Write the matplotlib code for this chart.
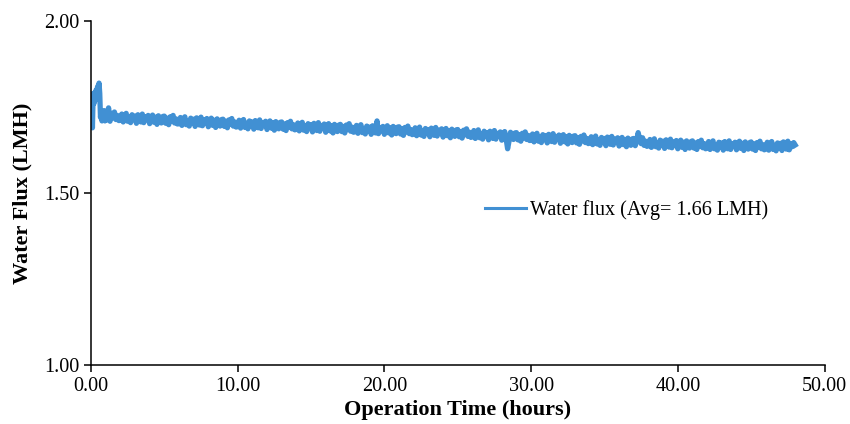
import numpy as np
import matplotlib
matplotlib.use('Agg')
import matplotlib.pyplot as plt

# start-up spike, sampled every 0.05 h from 0.00 to 0.95 h
start_flux = [1.70, 1.78, 1.69, 1.79, 1.76, 1.79, 1.77, 1.80, 1.78, 1.81,
              1.78, 1.82, 1.79, 1.72, 1.74, 1.71, 1.73, 1.72, 1.74, 1.71]

# main run, sampled every 0.1 h from 1.0 to 48.0 h (one row per hour)
main_flux = [
    1.734, 1.713, 1.748, 1.709, 1.732, 1.719, 1.736, 1.714, 1.726, 1.711,
    1.712, 1.730, 1.707, 1.724, 1.732, 1.709, 1.721, 1.705, 1.728, 1.714,
    1.724, 1.703, 1.728, 1.712, 1.707, 1.730, 1.705, 1.722, 1.714, 1.726,
    1.702, 1.718, 1.727, 1.706, 1.721, 1.700, 1.725, 1.711, 1.704, 1.723,
    1.724, 1.703, 1.718, 1.699, 1.722, 1.709, 1.726, 1.704, 1.716, 1.701,
    1.702, 1.720, 1.697, 1.714, 1.722, 1.699, 1.711, 1.695, 1.718, 1.704,
    1.715, 1.694, 1.719, 1.703, 1.698, 1.721, 1.696, 1.713, 1.705, 1.717,
    1.693, 1.709, 1.718, 1.697, 1.712, 1.691, 1.716, 1.702, 1.695, 1.714,
    1.715, 1.694, 1.709, 1.690, 1.713, 1.700, 1.717, 1.695, 1.707, 1.692,
    1.694, 1.712, 1.689, 1.706, 1.714, 1.691, 1.703, 1.687, 1.710, 1.696,
    1.707, 1.686, 1.711, 1.695, 1.690, 1.713, 1.688, 1.705, 1.697, 1.709,
    1.685, 1.701, 1.710, 1.689, 1.704, 1.683, 1.708, 1.694, 1.687, 1.706,
    1.707, 1.686, 1.701, 1.682, 1.705, 1.692, 1.709, 1.687, 1.699, 1.684,
    1.686, 1.704, 1.681, 1.698, 1.706, 1.683, 1.695, 1.679, 1.702, 1.688,
    1.699, 1.678, 1.703, 1.687, 1.682, 1.705, 1.680, 1.697, 1.689, 1.701,
    1.677, 1.693, 1.702, 1.681, 1.696, 1.675, 1.700, 1.686, 1.679, 1.698,
    1.700, 1.679, 1.694, 1.675, 1.698, 1.685, 1.702, 1.680, 1.692, 1.677,
    1.679, 1.697, 1.674, 1.691, 1.699, 1.676, 1.688, 1.672, 1.695, 1.681,
    1.692, 1.671, 1.696, 1.680, 1.675, 1.710, 1.673, 1.690, 1.682, 1.694,
    1.671, 1.687, 1.696, 1.675, 1.690, 1.669, 1.694, 1.680, 1.673, 1.692,
    1.693, 1.672, 1.687, 1.668, 1.691, 1.678, 1.695, 1.673, 1.685, 1.670,
    1.672, 1.690, 1.667, 1.684, 1.692, 1.669, 1.681, 1.665, 1.688, 1.674,
    1.685, 1.664, 1.689, 1.673, 1.668, 1.691, 1.666, 1.683, 1.675, 1.687,
    1.663, 1.679, 1.688, 1.667, 1.682, 1.661, 1.686, 1.672, 1.665, 1.684,
    1.685, 1.664, 1.679, 1.660, 1.683, 1.670, 1.687, 1.665, 1.677, 1.662,
    1.664, 1.682, 1.659, 1.676, 1.684, 1.661, 1.673, 1.657, 1.680, 1.666,
    1.676, 1.655, 1.680, 1.664, 1.659, 1.682, 1.657, 1.674, 1.666, 1.678,
    1.654, 1.670, 1.679, 1.658, 1.629, 1.652, 1.677, 1.663, 1.656, 1.675,
    1.676, 1.655, 1.670, 1.651, 1.674, 1.661, 1.678, 1.656, 1.668, 1.653,
    1.654, 1.672, 1.649, 1.666, 1.674, 1.651, 1.663, 1.647, 1.670, 1.656,
    1.667, 1.646, 1.671, 1.655, 1.650, 1.673, 1.648, 1.665, 1.657, 1.669,
    1.645, 1.661, 1.670, 1.649, 1.664, 1.643, 1.668, 1.654, 1.647, 1.666,
    1.667, 1.646, 1.661, 1.642, 1.665, 1.652, 1.669, 1.647, 1.659, 1.644,
    1.646, 1.664, 1.641, 1.658, 1.666, 1.643, 1.655, 1.639, 1.662, 1.648,
    1.659, 1.638, 1.663, 1.647, 1.642, 1.665, 1.640, 1.657, 1.649, 1.661,
    1.637, 1.653, 1.662, 1.641, 1.656, 1.635, 1.660, 1.646, 1.639, 1.658,
    1.659, 1.638, 1.653, 1.676, 1.657, 1.644, 1.661, 1.639, 1.651, 1.636,
    1.638, 1.656, 1.633, 1.650, 1.658, 1.635, 1.647, 1.631, 1.654, 1.640,
    1.651, 1.630, 1.655, 1.639, 1.634, 1.657, 1.632, 1.649, 1.641, 1.653,
    1.629, 1.645, 1.654, 1.633, 1.648, 1.627, 1.652, 1.638, 1.631, 1.650,
    1.652, 1.631, 1.646, 1.627, 1.650, 1.637, 1.654, 1.632, 1.644, 1.629,
    1.632, 1.650, 1.627, 1.644, 1.652, 1.629, 1.641, 1.625, 1.648, 1.634,
    1.646, 1.625, 1.650, 1.634, 1.629, 1.652, 1.627, 1.644, 1.636, 1.648,
    1.626, 1.642, 1.651, 1.630, 1.645, 1.624, 1.649, 1.635, 1.628, 1.647,
    1.649, 1.628, 1.643, 1.624, 1.647, 1.634, 1.651, 1.629, 1.641, 1.626,
    1.630, 1.648, 1.625, 1.642, 1.650, 1.627, 1.639, 1.623, 1.646, 1.632,
    1.645, 1.624, 1.649, 1.633, 1.628, 1.651, 1.626, 1.643, 1.635, 1.647,
    1.640,
]

start_time = np.arange(len(start_flux)) * 0.05
main_time = 1.0 + np.arange(len(main_flux)) * 0.1
time_h = np.concatenate([start_time, main_time])
flux = np.array(start_flux + main_flux)

x_ticks = [0, 10, 20, 30, 40, 50]
y_ticks = [1.0, 1.5, 2.0]

LINE = '#4190d3'

plt.rcParams.update({
    'font.family': 'Liberation Serif',
    'font.size': 14.5,
    'axes.spines.top': False,
    'axes.spines.right': False,
    'axes.edgecolor': '#000000',
    'axes.linewidth': 1.1,
})

fig = plt.figure(figsize=(8.5, 4.24), dpi=100)
ax = fig.add_axes([0.107, 0.139, 0.863, 0.811])

ax.plot(time_h, flux, color=LINE, linewidth=3.8, solid_joinstyle='round',
        label='Water flux (Avg= 1.66 LMH)')

ax.set_xlim(0, 50)
ax.set_ylim(1.0, 2.0)
ax.set_xticks(x_ticks)
ax.set_yticks(y_ticks)
ax.set_xticklabels([f'{v:.2f}' for v in x_ticks])
ax.set_yticklabels([f'{v:.2f}' for v in y_ticks])
ax.tick_params(direction='out', length=5, width=1.1, labelsize=14.5)

ax.set_xlabel('Operation Time (hours)', fontsize=16, fontweight='bold', labelpad=3)
ax.set_ylabel('Water Flux (LMH)', fontsize=16, fontweight='bold', labelpad=8)

leg = ax.legend(loc='center left', bbox_to_anchor=(0.513, 0.45), frameon=False,
                fontsize=14.5, handlelength=2.0, handletextpad=0.2)
leg.get_lines()[0].set_linewidth(2.2)

fig.savefig('out.png', dpi=100)
